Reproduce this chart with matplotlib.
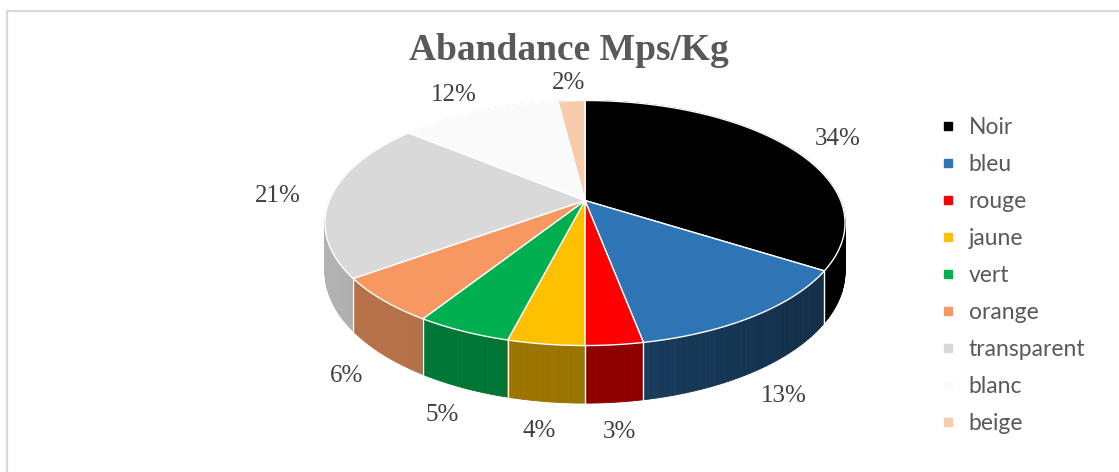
import numpy as np
import matplotlib
matplotlib.use("Agg")
import matplotlib.pyplot as plt
from matplotlib.patches import Polygon
from matplotlib.lines import Line2D
from matplotlib.colors import to_rgb

# ---- data ----
categories = ["Noir", "bleu", "rouge", "jaune", "vert", "orange",
              "transparent", "blanc", "beige"]
shares = [34, 13, 3, 4, 5, 6, 21, 12, 2]
colors = ["#000000", "#2E75B6", "#FF0000", "#FFC000", "#00B050",
          "#F79862", "#D9D9D9", "#FAFAFA", "#F8CBAD"]
title = "Abandance Mps/Kg"

W, H = 1119, 472
fig = plt.figure(figsize=(W / 100, H / 100), dpi=100)
ax = fig.add_axes([0, 0, 1, 1])
ax.set_xlim(0, W)
ax.set_ylim(H, 0)
ax.axis("off")

# chart-area border (top and left visible)
ax.plot([7, 7, W + 5], [H + 5, 10.5, 10.5], color="#D9D9D9", lw=1.6,
        solid_joinstyle="miter", zorder=0)

# ---- perspective disc geometry ----
cx, cy = 585.0, 200.5      # projected centre of the top face
A, B, K = 255.6, 118.4, 0.1837   # horizontal / depth scale and perspective
THICK = 47.0               # disc thickness (before perspective)


def top_pt(theta, r=1.0):
    u, v = r * np.cos(theta), r * np.sin(theta)
    s = 1.0 + K * v
    return cx + A * u / s, cy - B * v / s


def depth(theta):
    return THICK / (1.0 + K * np.sin(theta))


def bot_pt(theta):
    x, y = top_pt(theta)
    return x, y + depth(theta)


def shade(theta):
    # lighter on the left side of the wall, darker towards the front right
    return 0.60 + 0.25 * np.cos(theta - np.pi)


total = float(sum(shares))
bounds = [np.pi / 2]
for s in shares:
    bounds.append(bounds[-1] - 2 * np.pi * s / total)

# ---- side walls (painter's order: back to front) ----
wall_pieces = []
for i, c in enumerate(colors):
    t0, t1 = bounds[i], bounds[i + 1]
    n = max(2, int(abs(t1 - t0) / np.radians(1.0)))
    ts = np.linspace(t0, t1, n + 1)
    base = np.array(to_rgb(c))
    for a, b in zip(ts[:-1], ts[1:]):
        m = 0.5 * (a + b)
        # a little extra darkening across each slice's wall
        frac = (a - t0) / (t1 - t0) if t1 != t0 else 0
        col = np.clip(base * shade(m) * (1.0 - 0.08 * frac), 0, 1)
        pts = [top_pt(a), top_pt(b), bot_pt(b), bot_pt(a)]
        wall_pieces.append((np.sin(m), pts, col))

wall_pieces.sort(key=lambda p: -p[0])
for _, pts, col in wall_pieces:
    ax.add_patch(Polygon(pts, closed=True, facecolor=col, edgecolor=col,
                         lw=0.6, zorder=2))

# white seams between wall segments of neighbouring slices
for t in bounds[:-1]:
    if np.sin(t) < 0.05:
        (x0, y0), (x1, y1) = top_pt(t), bot_pt(t)
        ax.plot([x0, x1], [y0, y1], color="white", lw=1.0, zorder=3)

# ---- top faces ----
for i, c in enumerate(colors):
    t0, t1 = bounds[i], bounds[i + 1]
    ts = np.linspace(t0, t1, max(3, int(abs(t1 - t0) / np.radians(0.5))))
    pts = [(cx, cy)] + [top_pt(t) for t in ts]
    ax.add_patch(Polygon(pts, closed=True, facecolor=c, edgecolor="white",
                         lw=1.0, joinstyle="round", zorder=4))

# ---- percentage labels ----
lab_font = dict(family="Liberation Serif", size=18, color="#404040")
for i, s in enumerate(shares):
    m = 0.5 * (bounds[i] + bounds[i + 1])
    dx, dy = np.cos(m), -np.sin(m)
    if dy > 0:
        px, py = bot_pt(m)
        gy = 30
    else:
        px, py = top_pt(m)
        gy = 18
    lx = px + 53 * dx
    ly = py + gy * dy
    ax.text(lx, ly, f"{s}%", ha="center", va="center", zorder=6, **lab_font)

# ---- title ----
ax.text(569, 50, title, ha="center", va="center", family="Liberation Serif",
        weight="bold", size=27, color="#595959", zorder=6)

# ---- legend ----
handles = [Line2D([], [], ls="", marker="s", markersize=6,
                  markerfacecolor=c, markeredgecolor=c) for c in colors]
leg = ax.legend(handles, categories, loc="upper left",
                bbox_to_anchor=(940 / W, 1 - 117 / H), frameon=False,
                prop=dict(family="Lato", size=16.5), labelcolor="#595959",
                handlelength=0.7, handletextpad=0.55, labelspacing=0.70,
                borderpad=0, borderaxespad=0)

fig.savefig("out.png", dpi=100, facecolor="white")
